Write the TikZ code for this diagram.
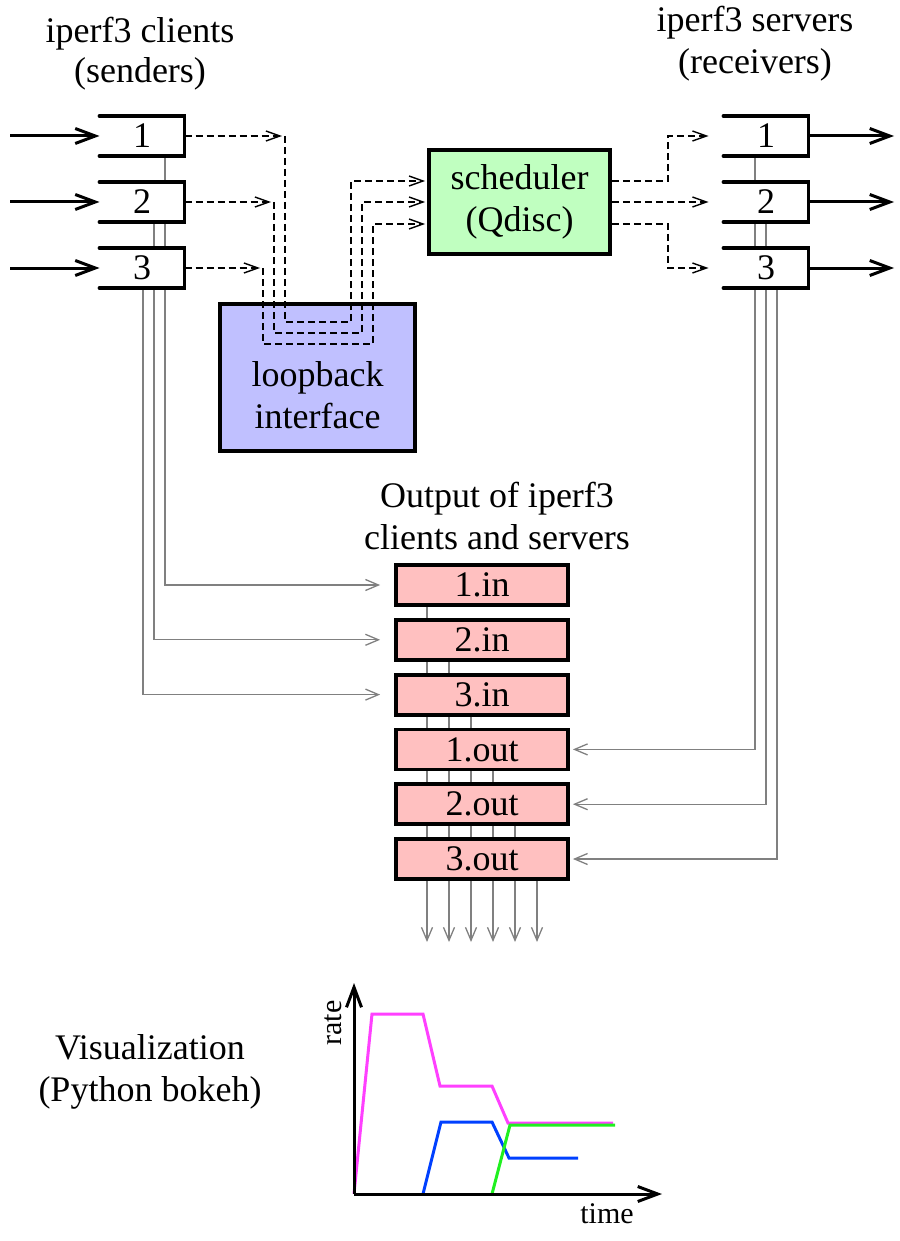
\documentclass[tikz,border=0pt]{standalone}
\usepackage{fontspec}
\setmainfont{Liberation Serif}
\usetikzlibrary{arrows.meta,calc}
\pgfdeclarelayer{bg}
\pgfsetlayers{bg,main}
\definecolor{schedgreen}{HTML}{C0FFC0}
\definecolor{loopblue}{HTML}{C0C0FF}
\definecolor{outpink}{HTML}{FFC0C0}
\definecolor{linegray}{HTML}{808080}
\definecolor{rmag}{HTML}{FF40FF}
\definecolor{rblue}{HTML}{0040FF}
\definecolor{rgreen}{HTML}{20F020}
\begin{document}
\begin{tikzpicture}[x=1pt,y=-1pt,
  every node/.style={font=\fontsize{36}{42}\selectfont},
  portbox/.style={minimum width=85pt,minimum height=40pt,inner sep=0pt,outer sep=0pt,fill=white},
  openside/.style={line width=3.8pt,line cap=round},
  bigbox/.style={draw,line width=3.8pt,inner sep=0pt,align=center},
  filebox/.style={draw,fill=outpink,line width=3.8pt,minimum width=172pt,minimum height=40pt,inner sep=0pt},
  bigarrow/.style={line width=3pt,-{Straight Barb[length=20pt,width=15pt]}},
  dashline/.style={line width=1.4pt,dash pattern=on 7pt off 4pt},
  dtip/.style={-{Straight Barb[length=14pt,width=10pt]}},
  grayline/.style={linegray,line width=1.3pt},
  gtip/.style={-{Straight Barb[length=13pt,width=11pt]}},
  label/.style={align=center},
  plotline/.style={line width=3pt},
  axislabel/.style={font=\fontsize{30}{34}\selectfont}
]
\useasboundingbox (0,0) rectangle (899,1241);

% labels
\node[label,font=\fontsize{36}{40}\selectfont] (lclients) at (140,54) {iperf3 clients\\(senders)};
\node[label] (lservers) at (755,44) {iperf3 servers\\(receivers)};
\node[label] (loutput) at (497,516) {Output of iperf3\\clients and servers};
\node[label] (lvis) at (150,1072) {Visualization\\(Python bokeh)};

% client boxes
\foreach \i/\y in {1/136,2/202,3/268}{
  \node[portbox] (c\i) at (142,\y) {\i};
  \draw[openside] (c\i.north west) -- (c\i.north east) -- (c\i.south east) -- (c\i.south west);
  \coordinate (in\i) at (10,\y);
  \draw[bigarrow] (in\i) -- (c\i.west);
}
% server boxes
\foreach \i/\y in {1/136,2/202,3/268}{
  \node[portbox] (s\i) at (766,\y) {\i};
  \draw[openside] (s\i.north west) -- (s\i.north east) -- (s\i.south east) -- (s\i.south west);
  \coordinate (out\i) at (894,\y);
  \draw[bigarrow] (s\i.east) -- (out\i);
}

% scheduler and loopback
\node[bigbox,fill=schedgreen,minimum width=181pt,minimum height=104pt] (sch) at (519.5,202) {scheduler\\(Qdisc)};
\node[bigbox,fill=loopblue,minimum width=195pt,minimum height=147pt] (lo) at (317.5,377.5) {};
\node[label] (lotext) at (317.5,395) {loopback\\interface};

% output files
\foreach \i/\t/\y in {1/1.in/585,2/2.in/639.8,3/3.in/694.6,4/1.out/749.4,5/2.out/804.2,6/3.out/859}{
  \node[filebox] (f\i) at (482,\y) {\t};
}

% dashed routes through loopback
\coordinate (k1) at (285,136);
\coordinate (k2) at (274,202);
\coordinate (k3) at (263,268);
\coordinate (u1) at (351,322);
\coordinate (u2) at (362,333);
\coordinate (u3) at (373,344);
\draw[dashline,dtip,shorten >=3pt] (c1.east) -- (k1);
\draw[dashline,dtip,shorten >=3pt] (c2.east) -- (k2);
\draw[dashline,dtip,shorten >=3pt] (c3.east) -- (k3);
\draw[dashline,dtip,shorten >=2pt] (k1) |- (u1) |- ($(sch.west)+(0,-21)$);
\draw[dashline,dtip,shorten >=2pt] (k2) |- (u2) |- (sch.west);
\draw[dashline,dtip,shorten >=2pt] (k3) |- (u3) |- ($(sch.west)+(0,22)$);

% scheduler to servers
\coordinate (t1) at (668,136);
\coordinate (t3) at (668,268);
\draw[dashline,dtip,shorten >=15pt] ($(sch.east)+(0,-21)$) -| (t1) -- (s1.west);
\draw[dashline,dtip,shorten >=15pt] (sch.east) -- (s2.west);
\draw[dashline,dtip,shorten >=15pt] ($(sch.east)+(0,22)$) -| (t3) -- (s3.west);

% gray result lines
\coordinate (bot) at (0,942);
\begin{pgfonlayer}{bg}
\draw[grayline,gtip,shorten >=14pt] ($(c1.south)+(23,0)$) |- (f1.west);
\draw[grayline,gtip,shorten >=14pt] ($(c2.south)+(12,0)$) |- (f2.west);
\draw[grayline,gtip,shorten >=14pt] ($(c3.south)+(1,0)$) |- (f3.west);
\draw[grayline,gtip,shorten >=3pt] ($(s1.south)+(-11,0)$) |- (f4.east);
\draw[grayline,gtip,shorten >=3pt] ($(s2.south)+(0,0)$) |- (f5.east);
\draw[grayline,gtip,shorten >=3pt] ($(s3.south)+(11,0)$) |- (f6.east);
\foreach \n/\dx in {f1/-55,f2/-33,f3/-11,f4/11,f5/33,f6/55}{
  \draw[grayline,gtip] ($(\n.center)+(\dx,0)$) -- ($(\n.center |- bot)+(\dx,0)$);
}
\end{pgfonlayer}

% chart
\coordinate (O) at (354,1194);
\coordinate (ytop) at (354,983);
\coordinate (xend) at (662,1194);
\draw[plotline,rmag] (O) -- (372,1014) -- (423,1014) -- (440,1086) -- (492,1086) -- (508,1123) -- (613,1123);
\draw[plotline,rblue] (423,1194) -- (441,1122) -- (492,1122) -- (509,1158) -- (578,1158);
\draw[plotline,rgreen] (492,1194) -- (510,1125) -- (615,1125);
\draw[bigarrow] (O) -- (ytop);
\draw[bigarrow] (O) -- (xend);
\node[axislabel,rotate=90] (rate) at (333,1023) {rate};
\node[axislabel] (time) at (607,1214) {time};
\end{tikzpicture}
\end{document}
